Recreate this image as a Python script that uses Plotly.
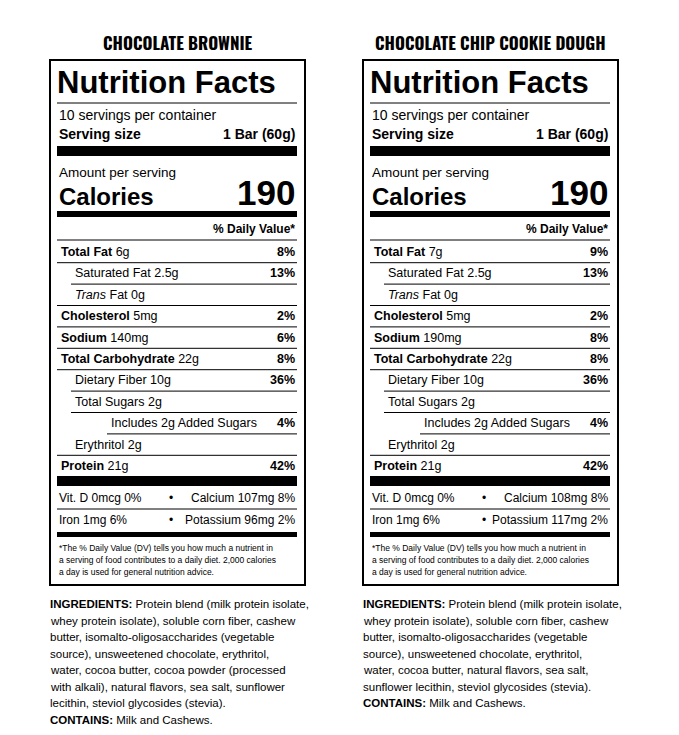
import plotly.graph_objects as go

products = ["CHOCOLATE BROWNIE", "CHOCOLATE CHIP COOKIE DOUGH"]
calories = ["190", "190"]
serving = "1 Bar (60g)"
row_labels = ["Total Fat", "Saturated Fat", "Trans Fat", "Cholesterol", "Sodium",
              "Total Carbohydrate", "Dietary Fiber", "Total Sugars", "Includes 2g Added Sugars",
              "Erythritol", "Protein"]
row_bold = [True, False, False, True, True, True, False, False, False, False, True]
row_indent = [0, 1, 1, 0, 0, 0, 1, 1, 2, 1, 0]
amounts = [["6g", "2.5g", "0g", "5mg", "140mg", "22g", "10g", "2g", "", "2g", "21g"],
           ["7g", "2.5g", "0g", "5mg", "190mg", "22g", "10g", "2g", "", "2g", "21g"]]
daily = [["8%", "13%", "", "2%", "6%", "8%", "36%", "", "4%", "", "42%"],
         ["9%", "13%", "", "2%", "8%", "8%", "36%", "", "4%", "", "42%"]]
vit_left = [["Vit. D 0mcg 0%", "Iron 1mg 6%"], ["Vit. D 0mcg 0%", "Iron 1mg 6%"]]
vit_right = [["Calcium 107mg 8%", "Potassium 96mg 2%"], ["Calcium 108mg 8%", "Potassium 117mg 2%"]]
footnote = ["*The % Daily Value (DV) tells you how much a nutrient in",
            "a serving of food contributes to a daily diet. 2,000 calories",
            "a day is used for general nutrition advice."]
ingredients = [
    ["<b>INGREDIENTS:</b> Protein blend (milk protein isolate,",
     "whey protein isolate), soluble corn fiber, cashew",
     "butter, isomalto-oligosaccharides (vegetable",
     "source), unsweetened chocolate, erythritol,",
     "water, cocoa butter, cocoa powder (processed",
     "with alkali), natural flavors, sea salt, sunflower",
     "lecithin, steviol glycosides (stevia).",
     "<b>CONTAINS:</b> Milk and Cashews."],
    ["<b>INGREDIENTS:</b> Protein blend (milk protein isolate,",
     "whey protein isolate), soluble corn fiber, cashew",
     "butter, isomalto-oligosaccharides (vegetable",
     "source), unsweetened chocolate, erythritol,",
     "water, cocoa butter, natural flavors, sea salt,",
     "sunflower lecithin, steviol glycosides (stevia).",
     "<b>CONTAINS:</b> Milk and Cashews."]]

F = "Liberation Sans Narrow, Arial Narrow, sans-serif"
FB = "Oswald, Liberation Sans Narrow, Arial Narrow, sans-serif"
fig = go.Figure()
shapes, anns = [], []

def txt(x, y, s, size, anchor="left", bold=False, font=F, italic=False):
    if bold:
        s = "<b>" + s + "</b>"
    if italic:
        s = "<i>" + s + "</i>"
    anns.append(dict(x=x, y=y, text=s, showarrow=False, xanchor=anchor, yanchor="middle",
                     font=dict(family=font, size=size, color="black")))

def bar(x0, x1, y0, y1):
    shapes.append(dict(type="rect", x0=x0, x1=x1, y0=y0, y1=y1, fillcolor="black", line_width=0))

def line(x0, x1, y):
    shapes.append(dict(type="line", x0=x0, x1=x1, y0=y, y1=y, line=dict(color="black", width=1)))

for p in range(2):
    dx = 313 * p
    L, R = 50 + dx, 305 + dx
    l, r = L + 7, R - 8
    txt((L + R) / 2, 42, products[p], 17, "center", True, FB)
    shapes.append(dict(type="rect", x0=L, x1=R, y0=60, y1=585, line=dict(color="black", width=2)))
    txt(l - 2, 82, "Nutrition Facts", 31, bold=True, font="Liberation Sans, Arial, sans-serif")
    line(l, r, 103)
    txt(l, 115, "10 servings per container", 14)
    txt(l, 134, "Serving size", 14, bold=True)
    txt(r, 134, serving, 14, "right", True)
    bar(l, r, 146, 156)
    txt(l, 172, "Amount per serving", 13.5)
    txt(l, 196, "Calories", 24, bold=True)
    txt(r, 192, calories[p], 35, "right", True, "Liberation Sans, Arial, sans-serif")
    bar(l, r, 211, 217)
    txt(r, 229, "% Daily Value*", 12, "right", True)
    line(l, r, 240)
    for i, lab in enumerate(row_labels):
        y = 252 + i * 21.4
        x = l + 2 + [0, 14, 14, 0][row_indent[i]] + (36 if row_indent[i] == 2 else 0)
        if lab == "Trans Fat":
            s = "<i>Trans</i> Fat " + amounts[p][i]
        elif row_bold[i]:
            s = "<b>" + lab + "</b> " + amounts[p][i]
        else:
            s = (lab + " " + amounts[p][i]).strip()
        txt(x, y, s, 12.5)
        if daily[p][i]:
            txt(r, y, daily[p][i], 12.5, "right", True)
        if i < len(row_labels) - 1:
            line(x - 2 if row_indent[i + 1] else l, r, y + 10.7)
    bar(l, r, 476, 486)
    for j in range(2):
        y = 498 + j * 22
        txt(l, y, vit_left[p][j], 12)
        txt((l + r) / 2 - 6, y, "•", 12, "center")
        txt(r, y, vit_right[p][j], 12, "right")
    line(l, r, 509)
    bar(l, r, 532, 537)
    for k, s in enumerate(footnote):
        txt(l, 548 + k * 12, s, 8.5)
    for k, s in enumerate(ingredients[p]):
        txt(L - 2, 604 + k * 16.5, s, 11.5)

# page body has an 8px margin, so offset the ranges to keep pixel coordinates aligned
fig.update_layout(width=679, height=735, margin=dict(l=0, r=0, t=0, b=0),
                  plot_bgcolor="white", paper_bgcolor="white", shapes=shapes, annotations=anns,
                  xaxis=dict(range=[8, 687], visible=False, fixedrange=True),
                  yaxis=dict(range=[743, 8], visible=False, fixedrange=True),
                  showlegend=False)
fig.write_html("out.html")
